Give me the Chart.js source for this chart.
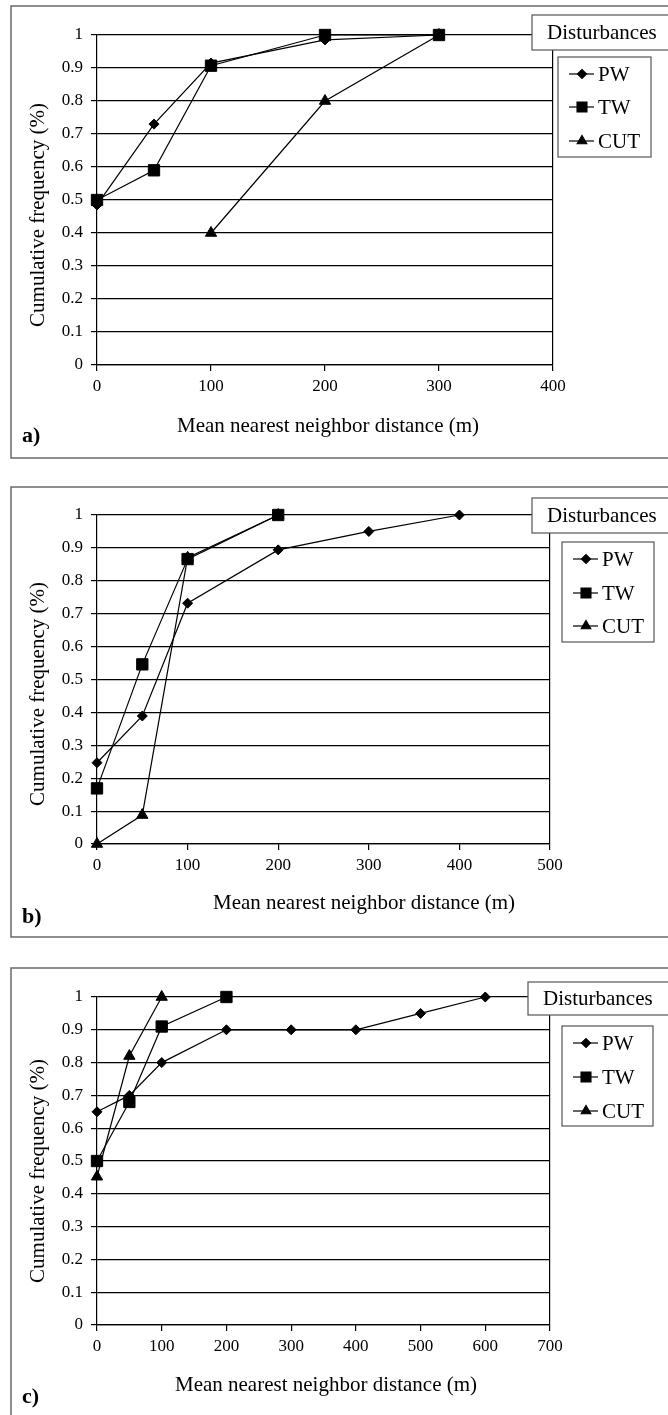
<!DOCTYPE html>
<html>
<head>
<meta charset="utf-8">
<script src="https://cdn.jsdelivr.net/npm/chart.js"></script>
<style>
  body { margin: 0; background: #fff; }
  canvas.panel { position: absolute; left: 0; }
</style>
</head>
<body>
<canvas id="chartA" class="panel" width="668" height="470" style="top:0px"></canvas>
<canvas id="chartB" class="panel" width="668" height="470" style="top:476px"></canvas>
<canvas id="chartC" class="panel" width="668" height="460" style="top:955px"></canvas>
<script>
// データ (a, b, c の3パネル)
const seriesNames = ["PW", "TW", "CUT"];
const legendTitle = "Disturbances";
const xTitle = "Mean nearest neighbor distance (m)";
const yTitle = "Cumulative frequency (%)";

const distA = [0, 50, 100, 200, 300];
const pwA = [0.485, 0.73, 0.915, 0.985, 1];
const twA = [0.5, 0.59, 0.907, 1, 1];
const cutA = [null, null, 0.4, 0.8, 1];

const distB = [0, 50, 100, 200, 300, 400];
const pwB = [0.247, 0.389, 0.732, 0.894, 0.95, 1];
const twB = [0.169, 0.546, 0.866, 1, null, null];
const cutB = [0, 0.088, 0.87, 1, null, null];

const distC = [0, 50, 100, 200, 300, 400, 500, 600];
const pwC = [0.65, 0.7, 0.8, 0.9, 0.9, 0.9, 0.95, 1];
const twC = [0.5, 0.68, 0.91, 1, null, null, null, null];
const cutC = [0.452, 0.82, 1, null, null, null, null, null];

const xMaxA = 400, xMaxB = 500, xMaxC = 700;

const serif = '"Liberation Serif", "Times New Roman", serif';
const pointStyles = ["rectRot", "rect", "triangle"];
const pointSizes = [5, 8, 6.5];
const legendSizes = [4.5, 7, 5.5];

// 枠・凡例・タイトルを描くプラグイン
const decoPlugin = {
  id: "deco",
  beforeDraw(chart, args, o) {
    const ctx = chart.ctx;
    ctx.save();
    ctx.fillStyle = "#fff";
    ctx.fillRect(0, 0, chart.width, chart.height);
    ctx.strokeStyle = "#6a6a6a";
    ctx.lineWidth = 1.5;
    ctx.strokeRect(o.frameL, o.frameT, chart.width + 20 - o.frameL, o.frameB - o.frameT);
    ctx.restore();
  },
  afterDraw(chart, args, o) {
    const ctx = chart.ctx;
    ctx.save();
    // Disturbances box
    ctx.fillStyle = "#fff";
    ctx.strokeStyle = "#555";
    ctx.lineWidth = 1.2;
    ctx.fillRect(o.distX, o.distT, chart.width + 20 - o.distX, o.distB - o.distT);
    ctx.strokeRect(o.distX, o.distT, chart.width + 20 - o.distX, o.distB - o.distT);
    ctx.fillStyle = "#000";
    ctx.font = "21px " + serif;
    ctx.textBaseline = "middle";
    ctx.textAlign = "left";
    ctx.fillText(legendTitle, o.distX + 15, (o.distT + o.distB) / 2 + 1);

    // legend box
    ctx.fillStyle = "#fff";
    ctx.fillRect(o.legL, o.legT, o.legR - o.legL, o.legB - o.legT);
    ctx.strokeRect(o.legL, o.legT, o.legR - o.legL, o.legB - o.legT);
    const rows = [o.row1, o.row2, o.row3];
    seriesNames.forEach(function(name, i) {
      const y = rows[i];
      ctx.strokeStyle = "#000";
      ctx.lineWidth = 1.2;
      ctx.beginPath();
      ctx.moveTo(o.legL + 11, y);
      ctx.lineTo(o.legL + 36, y);
      ctx.stroke();
      ctx.fillStyle = "#000";
      Chart.helpers.drawPoint(ctx, {pointStyle: pointStyles[i], radius: legendSizes[i], borderWidth: 1, rotation: 0}, o.legL + 24, y);
      ctx.fillStyle = "#000";
      ctx.font = "21px " + serif;
      ctx.textBaseline = "middle";
      ctx.fillText(name, o.legL + 40, y + 1);
    });

    // axis titles
    ctx.fillStyle = "#000";
    ctx.font = "21px " + serif;
    ctx.textAlign = "center";
    ctx.textBaseline = "middle";
    ctx.fillText(xTitle, o.xtX, o.xtY);
    ctx.save();
    ctx.translate(o.ytX, o.ytY);
    ctx.rotate(-Math.PI / 2);
    ctx.fillText(yTitle, 0, 0);
    ctx.restore();

    // panel label
    ctx.font = "bold 22px " + serif;
    ctx.textAlign = "left";
    ctx.fillText(o.label, o.labelX, o.labelY);
    ctx.restore();
  }
};

function makeSeries(dist, ys, i) {
  const pts = [];
  dist.forEach(function(d, k) {
    if (ys[k] !== null) pts.push({x: d, y: ys[k]});
  });
  return {
    label: seriesNames[i],
    data: pts,
    borderColor: "#000",
    backgroundColor: "#000",
    borderWidth: 1.2,
    pointStyle: pointStyles[i],
    pointRadius: pointSizes[i],
    pointBackgroundColor: "#000",
    pointBorderColor: "#000",
    pointBorderWidth: 1,
    tension: 0,
    clip: false
  };
}

function makeChart(id, top, height, dist, pw, tw, cut, xMax, L) {
  const ctx = document.getElementById(id).getContext("2d");
  return new Chart(ctx, {
    type: "line",
    data: {
      datasets: [makeSeries(dist, pw, 0), makeSeries(dist, tw, 1), makeSeries(dist, cut, 2)]
    },
    options: {
      responsive: false,
      animation: false,
      layout: {
        padding: {
          left: L.areaL - 60,
          right: 668 - L.areaR,
          top: L.areaT - top,
          bottom: height - (L.areaB - top) - 50
        }
      },
      scales: {
        x: {
          type: "linear",
          min: 0,
          max: xMax,
          afterFit: function(s) { s.height = 50; },
          ticks: {
            stepSize: 100,
            color: "#000",
            font: {family: serif, size: 17},
            padding: 5,
            maxRotation: 0
          },
          grid: {
            color: function(c) { return c.tick && c.tick.value === xMax ? "#000" : "rgba(0,0,0,0)"; },
            tickColor: "#000",
            tickLength: 6,
            lineWidth: 1.2
          },
          border: {display: true, color: "#000", width: 1.2}
        },
        y: {
          min: 0,
          max: 1,
          afterFit: function(s) { s.width = 60; },
          ticks: {
            stepSize: 0.1,
            color: "#000",
            font: {family: serif, size: 17},
            padding: 8,
            callback: function(v) { return String(Math.round(v * 10) / 10); }
          },
          grid: {
            color: "#000",
            tickColor: "#000",
            tickLength: 6,
            lineWidth: 1.2
          },
          border: {display: true, color: "#000", width: 1.2}
        }
      },
      plugins: {
        legend: {display: false},
        tooltip: {enabled: false},
        deco: {
          frameL: 11, frameT: L.frameT - top, frameB: L.frameB - top,
          distX: L.distX, distT: L.distT - top, distB: L.distB - top,
          legL: L.legL, legR: L.legR, legT: L.legT - top, legB: L.legB - top,
          row1: L.rows[0] - top, row2: L.rows[1] - top, row3: L.rows[2] - top,
          xtX: L.xt[0], xtY: L.xt[1] - top,
          ytX: L.yt[0], ytY: L.yt[1] - top,
          label: L.label, labelX: 22, labelY: L.labelY - top
        }
      }
    },
    plugins: [decoPlugin]
  });
}

makeChart("chartA", 0, 470, distA, pwA, twA, cutA, xMaxA, {
  frameT: 6, frameB: 458,
  areaL: 97, areaR: 553, areaT: 35, areaB: 365,
  distX: 532, distT: 15, distB: 50,
  legL: 558, legR: 651, legT: 57, legB: 157, rows: [74, 107, 141],
  xt: [328, 426], yt: [38, 215], label: "a)", labelY: 436
});

makeChart("chartB", 476, 470, distB, pwB, twB, cutB, xMaxB, {
  frameT: 487, frameB: 937,
  areaL: 97, areaR: 550, areaT: 515, areaB: 844,
  distX: 532, distT: 498, distB: 533,
  legL: 562, legR: 654, legT: 542, legB: 642, rows: [559, 593, 626],
  xt: [364, 903], yt: [38, 694], label: "b)", labelY: 917
});

makeChart("chartC", 955, 460, distC, pwC, twC, cutC, xMaxC, {
  frameT: 968, frameB: 1440,
  areaL: 97, areaR: 550, areaT: 997, areaB: 1325,
  distX: 528, distT: 982, distB: 1015,
  legL: 562, legR: 653, legT: 1026, legB: 1126, rows: [1043, 1077, 1111],
  xt: [326, 1385], yt: [38, 1171], label: "c)", labelY: 1397
});
</script>
</body>
</html>
